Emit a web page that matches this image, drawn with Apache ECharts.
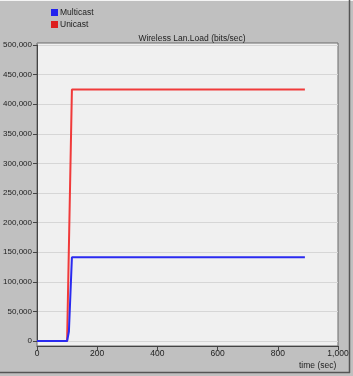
<!DOCTYPE html>
<html>
<head>
<meta charset="utf-8">
<script src="https://cdn.jsdelivr.net/npm/echarts@6/dist/echarts.min.js"></script>
<style>
  html, body { margin: 0; padding: 0; background: #c0c0c0; }
  #chart { width: 353px; height: 376px; }
</style>
</head>
<body>
<div id="chart"></div>
<script>
// time (sec) vs load (bits/sec)
const multicastData = [[0, 0], [100, 0], [106, 16000], [116, 141500], [890, 141500]];
const unicastData = [[0, 0], [100, 0], [116, 425000], [890, 425000]];
const seriesNames = ['Multicast', 'Unicast'];
const xTicks = [0, 200, 400, 600, 800, 1000];

const chart = echarts.init(document.getElementById('chart'));
const font = 'Liberation Sans, Arial, sans-serif';

chart.setOption({
  animation: false,
  backgroundColor: '#c0c0c0',
  textStyle: { fontFamily: font },
  title: {
    text: 'Wireless Lan.Load (bits/sec)',
    left: 187, top: 29, textAlign: 'center',
    textStyle: { fontSize: 8.5, fontWeight: 'normal', color: '#222', fontFamily: font }
  },
  legend: {
    orient: 'vertical', left: 46, top: 3,
    icon: 'rect', itemWidth: 7, itemHeight: 7, itemGap: 3,
    textStyle: { fontSize: 8.5, color: '#222', padding: [0, 0, 0, -3] },
    data: seriesNames
  },
  grid: { left: 37, right: 15, top: 45, bottom: 35, outerBoundsMode: 'none', containLabel: false },
  xAxis: {
    type: 'value', min: 0, max: 1000, interval: 200,
    offset: 5,
    axisLine: { onZero: false, lineStyle: { color: '#444' } },
    axisTick: { length: 4, lineStyle: { color: '#444' } },
    axisLabel: {
      margin: 3, fontSize: 8.5, color: '#222',
      formatter: v => xTicks.includes(v) ? v.toLocaleString('en-US') : ''
    },
    splitLine: { show: false }
  },
  yAxis: {
    type: 'value', min: 0, max: 500000, interval: 50000,
    axisLine: { show: true, lineStyle: { color: '#444' } },
    axisTick: { show: true, length: 4, lineStyle: { color: '#444' } },
    axisLabel: {
      margin: 5, fontSize: 8, color: '#222',
      formatter: v => v.toLocaleString('en-US')
    },
    splitLine: { lineStyle: { color: '#d6d6d6', width: 1 } }
  },
  graphic: [
    { type: 'rect', z: -10, shape: { x: 37, y: 43, width: 301, height: 303 },
      style: { fill: '#f0f0f0', stroke: '#6a6a6a', lineWidth: 1 } },
    { type: 'line', shape: { x1: 0, y1: 0.5, x2: 353, y2: 0.5 }, style: { stroke: '#f4f4f4', lineWidth: 1 } },
    { type: 'line', shape: { x1: 349.5, y1: 0, x2: 349.5, y2: 373 }, style: { stroke: '#555', lineWidth: 1.5 } },
    { type: 'line', shape: { x1: 0, y1: 372.5, x2: 350, y2: 372.5 }, style: { stroke: '#555', lineWidth: 1.5 } },
    { type: 'text', left: 299, top: 361,
      style: { text: 'time (sec)', fontSize: 8.5, fill: '#222', fontFamily: font } }
  ],
  series: [
    { name: 'Multicast', type: 'line', data: multicastData, showSymbol: false,
      color: '#2222ee', lineStyle: { width: 2, color: '#2a2af0' }, z: 3 },
    { name: 'Unicast', type: 'line', data: unicastData, showSymbol: false,
      color: '#dd2020', lineStyle: { width: 2, color: '#f03a3a' }, z: 2 }
  ]
});
</script>
</body>
</html>
